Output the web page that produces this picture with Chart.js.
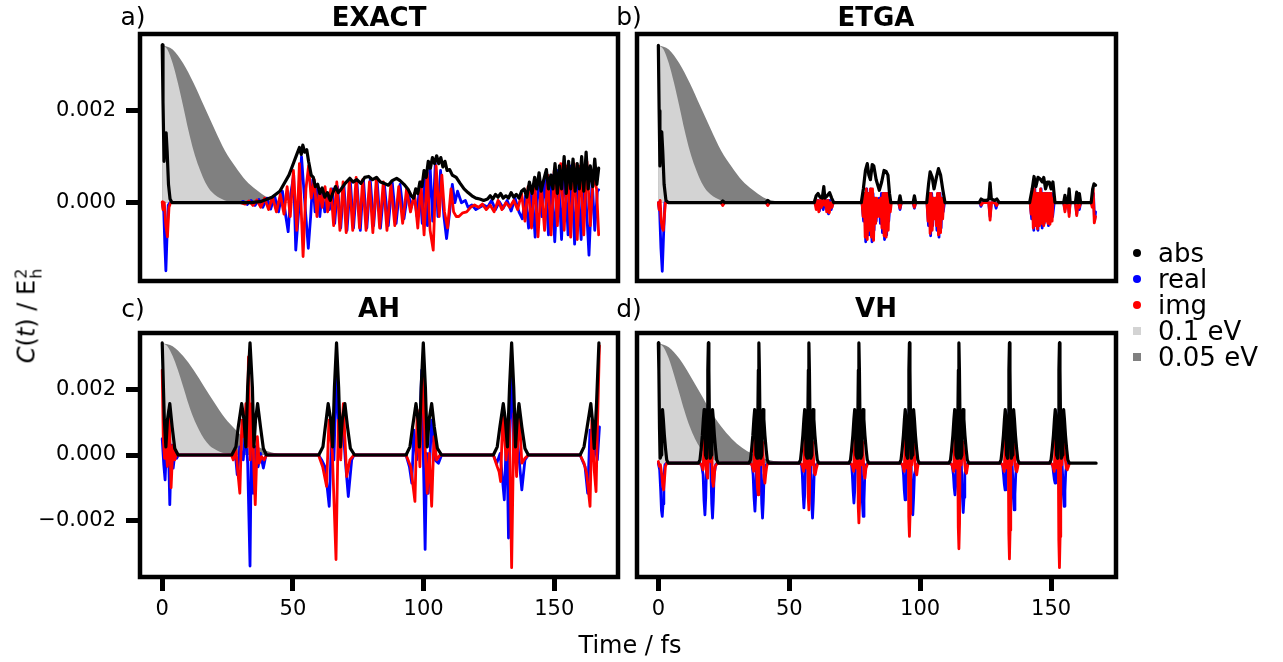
<!DOCTYPE html>
<html>
<head>
<meta charset="utf-8">
<script src="https://cdn.jsdelivr.net/npm/chart.js@4.4.1/dist/chart.umd.min.js"></script>
<style>
  body { margin: 0; width: 1283px; height: 662px; background: #fff; position: relative; overflow: hidden;
         font-family: "DejaVu Sans", sans-serif; color: #000; }
  canvas { position: absolute; left: 0; top: 0; }
  .txt { position: absolute; white-space: nowrap; transform: translate(-50%, -50%); line-height: 1; }
  .ttl { font-weight: bold; font-size: 26px; }
  .tag { font-size: 25px; }
  .leg { position: absolute; left: 1133px; top: 240px; font-size: 26px; line-height: 26px; }
  .leg div { display: flex; align-items: center; height: 26px; }
  .leg i { display: inline-block; width: 8px; height: 8px; margin-right: 17px; }
  .ylab { position: absolute; left: 28px; top: 316px; transform: translate(-50%, -50%) rotate(-90deg);
          font-size: 24px; white-space: nowrap; }
  .ss { display: inline-flex; flex-direction: column; font-size: 16px; line-height: 15px; vertical-align: 8px; margin-left: 1px; }
</style>
</head>
<body>
<canvas id="pa" width="1283" height="662"></canvas>
<canvas id="pb" width="1283" height="662"></canvas>
<canvas id="pc" width="1283" height="662"></canvas>
<canvas id="pd" width="1283" height="662"></canvas>

<div class="txt tag" style="left:133px;top:16px">a)</div>
<div class="txt ttl" style="left:379px;top:17px">EXACT</div>
<div class="txt tag" style="left:629px;top:16px">b)</div>
<div class="txt ttl" style="left:876px;top:17px">ETGA</div>
<div class="txt tag" style="left:133px;top:308px">c)</div>
<div class="txt ttl" style="left:379px;top:308px">AH</div>
<div class="txt tag" style="left:629px;top:308px">d)</div>
<div class="txt ttl" style="left:876px;top:308px">VH</div>

<div class="ylab"><i>C</i>(<i>t</i>) / E<span class="ss"><span>2</span><span>h</span></span></div>
<div class="txt" style="left:630px;top:645px;font-size:24px">Time / fs</div>

<div class="leg">
  <div><i style="background:#000;border-radius:50%"></i>abs</div>
  <div><i style="background:#0000ff;border-radius:50%"></i>real</div>
  <div><i style="background:#ff0000;border-radius:50%"></i>img</div>
  <div><i style="background:#d3d3d3"></i>0.1 eV</div>
  <div><i style="background:#808080"></i>0.05 eV</div>
</div>

<script>
const MILLI = 1e-3;

const xTicks = [0, 50, 100, 150];
const yTicksTop = [0, 0.002];
const yTicksBottom = [-0.002, 0, 0.002];

// shaded decay envelopes
const env01 = [[0,3.43],[2,3.33],[4,3.03],[6,2.6],[8,2.1],[10,1.58],[12,1.13],[14,0.78],[16,0.5],[18,0.3],[20,0.18],[22,0.1],[24,0.05],[26,0.02],[30,0]];
const env005 = [[0,3.43],[4,3.33],[8,3.03],[12,2.6],[16,2.1],[20,1.6],[24,1.13],[28,0.78],[32,0.48],[36,0.28],[40,0.12],[44,0.04],[48,0.01],[52,0]];
const env01D = [[0,3.43],[2,3.3],[4,2.95],[6,2.45],[8,1.9],[10,1.35],[12,0.87],[14,0.5],[16,0.22],[18,0.03],[20,-0.09],[22,-0.17],[24,-0.21],[27,-0.24],[30,-0.25]];
const env005D = [[0,3.43],[4,3.3],[8,2.95],[12,2.45],[16,1.9],[20,1.35],[24,0.87],[28,0.5],[32,0.22],[36,0.03],[40,-0.1],[44,-0.18],[48,-0.22],[52,-0.24],[58,-0.25]];

// a) EXACT
const absA = [[0,3.43],[0.3,2.2],[0.7,0.9],[1.1,1.3],[1.5,1.52],[1.9,1.1],[2.4,0.4],[3.0,0.08],[3.8,0],[34,0],[38,0.03],[42,0.12],[45,0.25],[47,0.45],[48.5,0.6],[49.5,0.75],[50.5,0.9],[51.5,1.05],[52.5,1.2],[53.2,1.05],[53.8,1.25],[54.5,1.1],[55.3,1.15],[56,0.9],[57,0.6],[57.8,0.55],[58.6,0.35],[59.5,0.4],[60.3,0.2],[61.2,0.32],[62.2,0.12],[63.2,0.22],[64.3,0.05],[65.2,0.2],[66.3,0.35],[67.4,0.22],[68.5,0.3],[70,0.42],[71.8,0.53],[73,0.45],[74.5,0.5],[76,0.42],[77.5,0.55],[79,0.57],[80.5,0.5],[82,0.55],[83.5,0.45],[85,0.42],[86.5,0.38],[88,0.48],[89.7,0.53],[91,0.48],[92.5,0.4],[94.2,0.28],[95.3,0.15],[96.2,0.1],[97,0.3],[97.8,0.2],[98.6,0.45],[99.4,0.35],[100.2,0.7],[101,0.55],[101.8,0.9],[102.6,0.75],[103.4,0.98],[104.2,0.85],[105,1.02],[105.8,0.85],[106.6,0.98],[107.4,0.78],[108.2,0.9],[109,0.7],[110,0.72],[111,0.6],[112.5,0.55],[114,0.42],[115.5,0.3],[117,0.22],[118.5,0.15],[120,0.1],[121.5,0.08],[123,0.05],[124.5,0.08],[125.5,0.15],[126.5,0.08],[127.5,0.18],[128.5,0.12],[129.5,0.2],[130.5,0.1],[131.5,0.15],[132.5,0.1],[133.5,0.22],[134.5,0.12],[135.5,0.18],[136.5,0.1],[137.5,0.25],[138.5,0.3],[139.5,0.12],[140.5,0.45],[141.5,0.2],[142.5,0.55],[143.3,0.3],[144.2,0.65],[145,0.25],[146,0.5],[147,0.72],[147.8,0.3],[148.7,0.6],[149.5,0.3],[150.3,0.85],[151.2,0.2],[152,0.8],[152.8,0.3],[153.8,1.0],[154.6,0.2],[155.5,0.9],[156.3,0.3],[157.2,0.95],[158,0.25],[158.8,0.85],[159.6,0.3],[160.5,1.0],[161.3,0.25],[162.2,1.1],[163,0.3],[163.8,0.8],[164.7,0.35],[165.5,0.95],[166.3,0.4],[167,0.75]];
const realA = [[0,0],[0.6,-0.2],[1.0,-0.9],[1.4,-1.48],[1.8,-0.8],[2.3,-0.05],[3,0],[30,0],[31,0.03],[32.5,-0.04],[34,0.05],[35.5,-0.06],[37,0.07],[38.5,-0.1],[40,0.1],[41.5,-0.14],[43,0.15],[44.5,-0.2],[46,0.25],[47.3,-0.3],[48.2,-0.63],[49.2,0.2],[50.3,0.6],[51.1,-1.03],[52.2,-0.2],[53.3,1.0],[54.3,0.2],[55.9,-0.99],[56.8,-0.3],[57.6,0.5],[58.5,-0.2],[59.4,0.35],[60.3,-0.3],[61.2,0.25],[62.2,-0.2],[63.2,0.15],[64,-0.15],[65,0.3],[66,-0.45],[67.1,0.35],[68.3,-0.55],[69.5,0.4],[70.7,-0.6],[72,0.45],[73.2,-0.55],[74.5,0.45],[75.8,-0.6],[77,0.5],[78.3,-0.55],[79.6,0.5],[80.9,-0.5],[82.2,0.5],[83.5,-0.55],[85,0.4],[86.5,-0.5],[88,0.45],[89.5,-0.45],[91,0.4],[92.5,-0.35],[94,0.25],[95.3,-0.1],[96.5,0.15],[97.5,-0.3],[98.5,0.4],[99.5,-0.45],[100.5,0.6],[101.5,-0.5],[102.5,0.8],[103.5,-0.4],[104.5,0.85],[105.5,-0.3],[106.5,0.7],[107.8,-0.3],[108.8,-0.78],[110,-0.2],[111,0.4],[112,0.0],[113,0.25],[114.5,0.0],[116,0.05],[117,-0.1],[118.5,-0.05],[120,-0.15],[121.5,-0.1],[123,-0.05],[124.5,-0.1],[126,0.05],[127.5,-0.15],[129,0.02],[130.5,-0.12],[132,0.05],[133.5,-0.18],[135,0.1],[136.5,-0.2],[137.8,-0.35],[139,0.15],[140.2,-0.55],[141.5,0.3],[142.7,-0.75],[144,0.5],[145.3,-0.3],[146.5,0.55],[147.8,-0.7],[149,0.6],[150.2,-0.85],[151.5,0.7],[152.8,-0.8],[154,0.85],[155.3,-0.7],[156.5,0.8],[157.8,-0.9],[159,0.6],[160.3,-0.8],[161.5,0.8],[162.7,-0.5],[163.3,-1.14],[164.5,0.5],[165.5,-0.6],[166.5,0.25],[167,0.28]];
const imgA = [[0,0.02],[0.3,-0.15],[0.8,0],[1.4,-0.5],[2.0,-0.74],[2.6,-0.1],[3.2,0],[30,0],[31.7,-0.03],[33.2,0.04],[34.7,-0.06],[36.2,0.06],[37.7,-0.1],[39.2,0.1],[40.7,-0.15],[42.2,0.12],[43.7,-0.2],[45.2,0.18],[46.6,-0.25],[47.8,0.35],[49,-0.3],[50.2,0.7],[51.5,-0.6],[52.5,0.85],[53.9,-1.17],[55,0.3],[56,0.8],[57,0.1],[58.2,0.5],[59.2,-0.3],[60.2,0.3],[61.2,-0.1],[62.3,0.35],[63.3,-0.2],[64.5,0.3],[65.6,-0.5],[66.8,0.45],[68,-0.6],[69.2,0.45],[70.4,-0.65],[71.6,0.5],[72.9,-0.6],[74.2,0.55],[75.5,-0.55],[76.7,0.5],[78,-0.6],[79.3,0.45],[80.6,-0.65],[81.9,0.5],[83.2,-0.55],[84.6,0.45],[86,-0.6],[87.5,0.4],[89,-0.5],[90.5,0.35],[92,-0.45],[93.5,0.3],[95,-0.2],[96.5,0.2],[97.8,-0.55],[99,0.45],[100.2,-0.7],[101.4,0.65],[102.5,-0.6],[103.7,-1.03],[104.8,0.8],[106,-0.3],[107,0.6],[108,-0.2],[109.2,-0.55],[110.5,0.3],[111.5,-0.2],[112.5,-0.3],[113.5,-0.3],[115,-0.22],[116.5,-0.2],[118,-0.1],[119.5,-0.05],[121,-0.1],[122.5,-0.03],[124,-0.15],[125.5,-0.05],[127,-0.2],[128.5,0.05],[130,-0.15],[131.5,0.0],[133,-0.1],[134.5,0.05],[136,-0.15],[137.5,0.2],[138.8,-0.4],[140,0.35],[141.3,-0.55],[142.5,0.45],[143.8,-0.74],[145,0.4],[146.3,-0.6],[147.5,0.6],[148.8,-0.7],[150,0.7],[151.2,-0.5],[152.5,0.85],[153.8,-0.6],[155,0.8],[156.3,-0.75],[157.6,0.85],[158.8,-0.8],[160,0.8],[161.3,-0.7],[162.5,0.9],[163.8,-0.5],[165,0.6],[166.2,0.3],[167,-0.7]];

// b) ETGA
const absB = [[0,3.42],[0.3,2.0],[0.6,0.8],[1.0,1.3],[1.3,1.54],[1.7,1.1],[2.2,0.4],[2.9,0.05],[3.8,0],[23.8,0],[24.6,0.04],[25.4,0],[41,0],[41.8,0.05],[42.6,0],[59.5,0],[60.3,0.15],[61,0.2],[61.8,0.12],[62.6,0.1],[63.2,0.35],[63.6,0.1],[64.5,0.15],[65.4,0.22],[66.2,0.1],[67,0],[77.5,0],[78.3,0.3],[79.1,0.7],[79.8,0.85],[80.4,0.6],[81,0.5],[81.7,0.83],[82.3,0.8],[83.2,0.5],[84.4,0.27],[85.3,0.45],[86.2,0.7],[87,0.68],[87.7,0.6],[88.3,0.2],[88.8,0],[91.8,0],[92.3,0.15],[92.8,0],[97.3,0],[97.8,0.15],[98.3,0],[102.5,0],[103.2,0.4],[103.8,0.67],[104.6,0.55],[105.3,0.3],[106.2,0.55],[107,0.74],[107.8,0.6],[108.6,0.3],[109.5,0],[122.5,0],[123.3,0.08],[124.2,0.05],[125.5,0.05],[126.2,0.08],[126.7,0.43],[127.2,0.08],[128.5,0.05],[129.3,0.08],[130.2,0],[141.8,0],[142.8,0.3],[143.5,0.57],[144.2,0.35],[145,0.55],[145.8,0.52],[146.6,0.45],[147.2,0.55],[147.9,0.3],[148.6,0.45],[149.3,0.45],[150,0.3],[150.7,0.45],[151.5,0],[154.8,0],[155.3,0.16],[155.8,0],[156.5,0],[156.9,0.3],[157.3,0],[159.3,0],[159.8,0.23],[160.3,0],[160.8,0.2],[161.3,0],[165.3,0],[165.9,0.3],[166.4,0.41],[167,0.38]];
const realB = [[0,0],[0.5,-0.2],[1.0,-1.0],[1.5,-1.49],[2.0,-0.7],[2.5,0],[3.5,0],[24,0],[24.6,-0.03],[25.2,0],[41.2,0],[41.8,-0.04],[42.4,0],[59.8,0],[60.5,-0.1],[61,0.05],[61.5,-0.18],[62,0],[62.5,-0.05],[63,-0.15],[63.5,0.05],[64,-0.1],[64.5,0.05],[65,-0.24],[65.5,0.05],[66,-0.15],[66.8,0],[77.8,0],[78.4,-0.4],[78.8,0.2],[79.2,-0.85],[79.6,0.3],[80,-0.7],[80.4,0.2],[80.8,-0.7],[81.2,0.3],[81.6,-0.85],[82,0.2],[82.4,-0.6],[82.8,0.1],[83.2,-0.4],[83.6,0.05],[84,-0.25],[84.4,0.1],[84.8,-0.45],[85.2,0.2],[85.6,-0.65],[86,0.2],[86.4,-0.8],[86.8,0.2],[87.2,-0.7],[87.6,0.2],[88,-0.4],[88.5,0],[91.8,0],[92.3,-0.15],[92.8,0],[97.3,0],[97.8,-0.12],[98.3,0],[102.6,0],[103.2,-0.5],[103.6,0.2],[104,-0.72],[104.4,0.2],[104.8,-0.5],[105.2,0.1],[105.6,-0.3],[106,0.1],[106.4,-0.6],[106.8,0.2],[107.2,-0.75],[107.6,0.2],[108,-0.55],[108.4,0.1],[108.8,-0.2],[109.3,0],[122.8,0],[123.2,-0.08],[123.8,0],[126.2,0],[126.7,-0.3],[127.2,0],[128.5,0],[129,-0.12],[129.6,0],[142,0],[142.6,-0.35],[143,0.2],[143.4,-0.6],[143.8,0.3],[144.2,-0.45],[144.6,0.2],[145,-0.6],[145.4,0.2],[145.8,-0.45],[146.2,0.3],[146.6,-0.55],[147,0.2],[147.4,-0.45],[147.8,0.2],[148.2,-0.35],[148.6,0.2],[149,-0.5],[149.4,0.2],[149.8,-0.4],[150.2,0.2],[150.6,-0.3],[151.2,0],[154.8,0],[155.3,-0.15],[155.8,0],[156.5,0],[156.9,-0.22],[157.3,0],[159.3,0],[159.8,-0.25],[160.3,0],[160.8,-0.15],[161.3,0],[165.3,0],[165.8,-0.05],[166.2,0.2],[166.6,-0.4],[167,-0.2]];
const imgB = [[0,0],[0.3,-0.15],[0.7,0.05],[1.1,-0.4],[1.5,-0.55],[1.9,-0.6],[2.3,-0.3],[2.7,0],[3.5,0],[24,0],[24.6,-0.06],[25.2,0],[41.2,0],[41.8,-0.06],[42.4,0],[59.8,0],[60.3,-0.15],[60.8,0.05],[61.3,-0.2],[61.8,0.05],[62.3,-0.1],[62.8,0.1],[63.3,-0.05],[63.8,0.05],[64.3,-0.2],[64.8,0.05],[65.3,-0.22],[65.8,0.0],[66.3,-0.1],[66.8,0],[77.8,0],[78.2,-0.3],[78.6,0.2],[79.0,-0.75],[79.4,0.3],[79.8,-0.8],[80.2,0.2],[80.6,-0.6],[81,0.3],[81.4,-0.75],[81.8,0.3],[82.2,-0.82],[82.6,0.1],[83,-0.45],[83.4,0.1],[83.8,-0.3],[84.2,0.05],[84.6,-0.3],[85,0.1],[85.4,-0.55],[85.8,0.2],[86.2,-0.72],[86.6,0.2],[87,-0.75],[87.4,0.2],[87.8,-0.6],[88.2,0.1],[88.6,-0.2],[89,0],[91.8,0],[92.3,-0.12],[92.8,0],[97.3,0],[97.8,-0.1],[98.3,0],[102.6,0],[103,-0.4],[103.4,0.2],[103.8,-0.67],[104.2,0.2],[104.6,-0.6],[105,0.1],[105.4,-0.35],[105.8,0.1],[106.2,-0.5],[106.6,0.2],[107,-0.7],[107.4,0.2],[107.8,-0.65],[108.2,0.1],[108.6,-0.35],[109,0.05],[109.5,0],[122.8,0],[123.3,-0.05],[124,0],[126.2,0],[126.7,-0.38],[127.2,0],[128.5,0],[129.2,-0.06],[129.8,0],[142,0],[142.4,-0.25],[142.8,0.2],[143.2,-0.55],[143.6,0.3],[144,-0.5],[144.4,0.2],[144.8,-0.57],[145.2,0.2],[145.6,-0.5],[146,0.3],[146.4,-0.45],[146.8,0.2],[147.2,-0.5],[147.6,0.2],[148,-0.4],[148.4,0.2],[148.8,-0.45],[149.2,0.2],[149.6,-0.47],[150,0.2],[150.4,-0.4],[150.8,0.1],[151.3,0],[154.8,0],[155.3,-0.2],[155.8,0],[156.5,0],[156.9,-0.3],[157.3,0],[159.3,0],[159.8,-0.28],[160.3,0],[160.8,-0.1],[161.3,0],[165.3,0],[165.7,-0.1],[166.1,0.3],[166.5,-0.44],[167,-0.3]];

// c) AH
const absC = [[0,3.43],[0.8,1.1],[1.4,0.25],[2.0,1.07],[2.9,1.57],[3.8,0.86],[4.8,0.2],[6.1,0],[26.6,0],[28.2,0.25],[29.1,0.86],[30.4,1.57],[31.3,1.07],[32.0,0.25],[32.7,2.08],[33.6,3.43],[34.5,2.08],[35.1,0.25],[35.7,1.07],[36.5,1.57],[37.6,0.86],[38.7,0.2],[39.9,0],[59.9,0],[61.5,0.25],[62.4,0.86],[63.5,1.57],[64.5,1.07],[65.2,0.25],[65.9,2.08],[66.7,3.43],[67.5,2.08],[68.2,0.25],[68.9,1.07],[69.9,1.57],[70.9,0.86],[72.0,0.2],[73.6,0],[93.3,0],[94.8,0.25],[95.8,0.86],[97.1,1.57],[97.9,1.07],[98.4,0.25],[99.1,2.08],[99.9,3.43],[100.7,2.08],[101.4,0.25],[102.1,1.07],[103.1,1.57],[104.1,0.86],[105.3,0.2],[106.9,0],[126.7,0],[128.2,0.25],[129.2,0.86],[130.5,1.57],[131.3,1.07],[132.1,0.25],[132.9,2.08],[133.7,3.43],[134.5,2.08],[135.2,0.25],[135.8,1.07],[136.5,1.57],[137.6,0.86],[138.8,0.2],[140.1,0],[159.9,0],[161.4,0.25],[162.6,0.86],[164.0,1.57],[164.7,1.0],[165.3,0.2],[166.2,1.6],[167.1,3.43]];
const realC = [[0,0.5],[0.6,-0.3],[1.1,-0.76],[1.6,0.2],[2.2,0.9],[2.9,-1.52],[3.5,0.3],[4.2,-0.4],[4.9,0.1],[5.5,-0.1],[6.2,0],[26.5,0],[28.2,-0.15],[28.7,-0.6],[29.7,0.25],[31.0,-0.15],[31.9,0.76],[32.7,-0.25],[33.6,-3.4],[34.2,1.07],[34.8,-1.17],[35.9,0.25],[36.7,-0.36],[37.6,0.05],[38.7,-0.4],[39.7,0],[59.8,0],[61.0,-0.15],[62.3,-0.36],[63.9,-1.57],[64.8,0.56],[65.7,-0.15],[66.7,2.7],[67.8,0.05],[69.0,1.07],[70.2,-0.3],[71.2,-1.27],[72.5,-0.15],[73.4,0],[93.3,0],[94.6,-0.36],[95.5,-0.86],[96.3,0.76],[97.4,-0.15],[98.4,0.56],[99.3,2.6],[100.6,-2.89],[101.2,0.05],[101.8,-1.17],[103.1,1.07],[104.4,-0.15],[105.7,-0.25],[106.9,0],[126.7,0],[128.0,-0.25],[129.3,0.05],[130.9,-1.37],[131.8,0.86],[132.5,-2.54],[133.1,1.07],[133.7,2.6],[134.6,0.05],[135.6,0.76],[137.6,-1.07],[138.8,-0.15],[140.1,0],[159.9,0],[161.8,-0.36],[162.8,-1.17],[163.7,0.76],[164.7,-0.15],[165.6,0.25],[166.5,-0.15],[167.3,0.86]];
const imgC = [[0,2.6],[0.4,0.5],[0.9,-0.1],[1.3,0.3],[2.0,-0.35],[2.6,1.37],[3.4,-1.0],[4.1,0.3],[4.8,-0.15],[5.5,0.05],[6.2,0],[26.5,0],[27.2,-0.15],[28.2,0.15],[29.1,-0.66],[29.7,-1.17],[30.5,1.07],[31.3,0.56],[32.0,1.57],[32.5,0.25],[33.0,3.0],[33.7,-0.15],[34.3,1.57],[35.1,-0.46],[35.6,-1.52],[36.4,0.56],[37.1,-0.25],[38.0,-0.05],[39.0,-0.15],[39.9,0],[59.8,0],[61.4,-0.36],[62.9,-0.96],[63.8,1.07],[65.1,0.05],[66.5,-3.2],[67.4,1.07],[68.3,-0.15],[69.3,1.57],[70.6,-0.66],[71.8,-0.15],[73.4,0],[93.3,0],[95.1,-0.36],[96.7,-1.42],[97.6,1.37],[98.6,-0.36],[99.7,2.9],[100.6,0.25],[101.4,-1.17],[102.2,0.05],[103.1,-1.57],[104.0,0.56],[105.0,-0.15],[106.3,0],[126.7,0],[128.2,-0.36],[128.9,-0.51],[129.5,-0.81],[130.3,1.27],[131.6,-0.15],[132.8,1.07],[133.7,-3.45],[134.6,1.27],[135.6,-0.66],[136.5,1.47],[137.6,-0.25],[138.8,-0.1],[140.1,0],[159.9,0],[161.4,-0.25],[162.4,-0.56],[163.7,-1.57],[164.4,1.07],[165.3,-0.46],[166.0,-1.12],[166.6,1.07],[167.3,3.35]];

// d) VH
const absD = [[0,3.43],[0.2,2.6],[0.45,0.8],[0.7,-0.1],[1.1,0.0],[1.3,1.1],[1.6,1.39],[1.9,1.1],[2.3,0.6],[2.8,0.15],[3.2,-0.15],[3.8,-0.25],
  [15.3,-0.25],[15.9,-0.15],[16.3,0.15],[16.8,0.6],[17.2,1.1],[17.5,1.39],[17.8,1.1],[18.0,0.0],[18.4,-0.1],[18.65,0.8],[18.9,2.6],[19.1,3.43],[19.3,2.6],[19.55,0.8],[19.8,-0.1],[20.2,0.0],[20.4,1.1],[20.7,1.39],[21.0,1.1],[21.4,0.6],[21.9,0.15],[22.3,-0.15],[22.9,-0.25],
  [34.6,-0.25],[35.2,-0.15],[35.6,0.15],[36.1,0.6],[36.5,1.1],[36.8,1.39],[37.1,1.1],[37.3,0.0],[37.7,-0.1],[37.95,0.8],[38.2,2.6],[38.4,3.43],[38.6,2.6],[38.85,0.8],[39.1,-0.1],[39.5,0.0],[39.7,1.1],[40.0,1.39],[40.3,1.1],[40.7,0.6],[41.2,0.15],[41.6,-0.15],[42.2,-0.25],
  [53.7,-0.25],[54.3,-0.15],[54.7,0.15],[55.2,0.6],[55.6,1.1],[55.9,1.39],[56.2,1.1],[56.4,0.0],[56.8,-0.1],[57.05,0.8],[57.3,2.6],[57.5,3.43],[57.7,2.6],[57.95,0.8],[58.2,-0.1],[58.6,0.0],[58.8,1.1],[59.1,1.39],[59.4,1.1],[59.8,0.6],[60.3,0.15],[60.7,-0.15],[61.3,-0.25],
  [72.8,-0.25],[73.4,-0.15],[73.8,0.15],[74.3,0.6],[74.7,1.1],[75.0,1.39],[75.3,1.1],[75.5,0.0],[75.9,-0.1],[76.15,0.8],[76.4,2.6],[76.6,3.43],[76.8,2.6],[77.05,0.8],[77.3,-0.1],[77.7,0.0],[77.9,1.1],[78.2,1.39],[78.5,1.1],[78.9,0.6],[79.4,0.15],[79.8,-0.15],[80.4,-0.25],
  [92.1,-0.25],[92.7,-0.15],[93.1,0.15],[93.6,0.6],[94.0,1.1],[94.3,1.39],[94.6,1.1],[94.8,0.0],[95.2,-0.1],[95.45,0.8],[95.7,2.6],[95.9,3.43],[96.1,2.6],[96.35,0.8],[96.6,-0.1],[97.0,0.0],[97.2,1.1],[97.5,1.39],[97.8,1.1],[98.2,0.6],[98.7,0.15],[99.1,-0.15],[99.7,-0.25],
  [111.0,-0.25],[111.6,-0.15],[112.0,0.15],[112.5,0.6],[112.9,1.1],[113.2,1.39],[113.5,1.1],[113.7,0.0],[114.1,-0.1],[114.35,0.8],[114.6,2.6],[114.8,3.43],[115.0,2.6],[115.25,0.8],[115.5,-0.1],[115.9,0.0],[116.1,1.1],[116.4,1.39],[116.7,1.1],[117.1,0.6],[117.6,0.15],[118.0,-0.15],[118.6,-0.25],
  [130.3,-0.25],[130.9,-0.15],[131.3,0.15],[131.8,0.6],[132.2,1.1],[132.5,1.39],[132.8,1.1],[133.0,0.0],[133.4,-0.1],[133.65,0.8],[133.9,2.6],[134.1,3.43],[134.3,2.6],[134.55,0.8],[134.8,-0.1],[135.2,0.0],[135.4,1.1],[135.7,1.39],[136.0,1.1],[136.4,0.6],[136.9,0.15],[137.3,-0.15],[137.9,-0.25],
  [149.4,-0.25],[150.0,-0.15],[150.4,0.15],[150.9,0.6],[151.3,1.1],[151.6,1.39],[151.9,1.1],[152.1,0.0],[152.5,-0.1],[152.75,0.8],[153.0,2.6],[153.2,3.43],[153.4,2.6],[153.65,0.8],[153.9,-0.1],[154.3,0.0],[154.5,1.1],[154.8,1.39],[155.1,1.1],[155.5,0.6],[156.0,0.15],[156.4,-0.15],[157.0,-0.25],[167.2,-0.25]];
const realD = [[0,-0.25],[0.5,-0.45],[0.9,-1.1],[1.2,-1.7],[1.5,-1.88],[1.8,-1.5],[2.1,-0.7],[2.5,-0.3],[3.2,-0.25],
  [15.7,-0.25],[16.5,-0.3],[17.1,-0.6],[17.45,-1.4],[17.8,-1.83],[18.1,-1.3],[18.4,-0.4],[18.8,0.9],[19.1,1.5],[19.4,0.2],[19.8,0.4],[20.1,-0.6],[20.4,-1.5],[20.7,-1.93],[21.0,-1.4],[21.3,-0.6],[21.9,-0.3],[22.5,-0.25],
  [35.0,-0.25],[35.8,-0.3],[36.2,-0.6],[36.55,-1.3],[36.9,-1.72],[37.2,-1.2],[37.5,-0.4],[38.0,0.9],[38.4,1.5],[38.7,0.2],[39.0,0.3],[39.2,-0.6],[39.5,-1.5],[39.8,-1.93],[40.1,-1.4],[40.4,-0.6],[41.2,-0.3],[41.8,-0.25],
  [54.1,-0.25],[54.7,-0.3],[55.0,-0.6],[55.3,-1.2],[55.6,-1.62],[55.9,-1.2],[56.2,-0.4],[57.1,0.9],[57.5,1.5],[57.8,0.2],[58.1,0.3],[58.3,-0.6],[58.6,-1.5],[58.9,-1.93],[59.2,-1.4],[59.5,-0.6],[60.3,-0.3],[60.9,-0.25],
  [73.2,-0.25],[73.8,-0.3],[74.1,-0.6],[74.4,-1.1],[74.7,-1.47],[75.0,-1.1],[75.3,-0.4],[76.2,0.9],[76.6,1.5],[76.9,0.2],[77.3,0.3],[77.6,-0.6],[77.95,-1.45],[78.25,-1.88],[78.55,-1.4],[78.85,-0.6],[79.4,-0.3],[80.0,-0.25],
  [92.5,-0.25],[93.3,-0.3],[93.65,-0.6],[93.95,-1.1],[94.25,-1.37],[94.55,-1.0],[94.85,-0.4],[95.5,0.9],[95.9,1.5],[96.2,0.2],[96.5,0.3],[96.6,-0.6],[96.9,-1.4],[97.2,-1.83],[97.5,-1.3],[97.8,-0.6],[98.7,-0.3],[99.3,-0.25],
  [111.4,-0.25],[112.2,-0.3],[112.7,-0.6],[113.0,-1.0],[113.3,-1.22],[113.6,-0.9],[113.9,-0.4],[114.4,0.9],[114.8,1.5],[115.1,0.2],[115.5,0.3],[115.85,-0.6],[116.15,-1.3],[116.45,-1.76],[116.75,-1.3],[117.05,-0.6],[117.6,-0.3],[118.2,-0.25],
  [130.7,-0.25],[131.5,-0.3],[131.85,-0.6],[132.15,-0.9],[132.45,-1.07],[132.75,-0.8],[133.05,-0.4],[133.7,0.9],[134.1,1.5],[134.4,0.2],[134.8,0.3],[135.3,-0.6],[135.6,-1.3],[135.9,-1.68],[136.2,-1.2],[136.5,-0.6],[136.9,-0.3],[137.5,-0.25],
  [149.8,-0.25],[150.6,-0.3],[150.95,-0.55],[151.25,-0.75],[151.55,-0.86],[151.85,-0.7],[152.15,-0.4],[152.8,0.9],[153.2,1.5],[153.5,0.2],[153.9,0.3],[154.4,-0.6],[154.7,-1.2],[155.0,-1.57],[155.3,-1.1],[155.6,-0.5],[156.0,-0.3],[156.6,-0.25]];
const imgD = [[0,-0.2],[0.4,-0.35],[0.8,-0.3],[1.3,-0.6],[1.7,-0.95],[2.0,-1.07],[2.3,-0.8],[2.7,-0.35],[3.2,-0.25],
  [15.7,-0.25],[16.5,-0.3],[17.1,-0.45],[17.6,0.6],[18.2,-0.3],[18.55,-0.6],[18.85,-0.71],[19.1,0.3],[19.4,1.0],[19.8,-0.2],[20.3,0.4],[20.7,-0.8],[21.0,-0.96],[21.3,-0.7],[21.7,-0.35],[22.5,-0.25],
  [35.0,-0.25],[35.8,-0.3],[36.4,-0.5],[36.9,0.6],[37.5,-0.4],[37.85,-1.0],[38.15,-1.22],[38.4,-0.5],[38.6,1.0],[39.1,-0.3],[39.8,0.4],[40.4,-0.7],[40.7,-0.86],[41.0,-0.6],[41.4,-0.35],[41.8,-0.25],
  [54.1,-0.25],[54.9,-0.3],[55.5,-0.5],[56.0,0.6],[56.6,-0.4],[57.0,0.8],[57.25,-1.3],[57.5,-1.68],[57.75,-1.2],[58.0,0.8],[58.4,-0.3],[58.9,0.4],[59.6,-0.55],[59.9,-0.6],[60.4,-0.4],[60.9,-0.25],
  [73.2,-0.25],[74.0,-0.3],[74.6,-0.5],[75.1,0.6],[75.7,-0.4],[76.1,0.8],[76.35,-1.6],[76.6,-2.08],[76.85,-1.5],[77.1,0.8],[77.5,-0.3],[78.0,0.4],[78.6,-0.6],[78.9,-0.71],[79.3,-0.4],[80.0,-0.25],
  [92.5,-0.25],[93.3,-0.3],[93.9,-0.5],[94.4,0.6],[95.0,-0.4],[95.4,0.8],[95.65,-1.9],[95.9,-2.49],[96.15,-1.8],[96.4,0.8],[96.8,-0.3],[97.4,0.4],[98.3,-0.5],[98.7,-0.61],[99.0,-0.4],[99.3,-0.25],
  [111.4,-0.25],[112.2,-0.3],[112.8,-0.5],[113.3,0.6],[113.9,-0.4],[114.3,0.8],[114.55,-2.2],[114.8,-2.87],[115.05,-2.1],[115.3,0.8],[115.7,-0.3],[116.3,0.4],[117.3,-0.5],[117.7,-0.56],[118.0,-0.4],[118.3,-0.25],
  [130.7,-0.25],[131.5,-0.3],[132.1,-0.5],[132.6,0.6],[133.2,-0.4],[133.6,0.8],[133.85,-2.4],[134.1,-3.18],[134.35,-2.3],[134.6,0.8],[135.0,-0.3],[135.6,0.4],[136.5,-0.45],[136.9,-0.51],[137.2,-0.4],[137.5,-0.25],
  [149.8,-0.25],[150.6,-0.3],[151.2,-0.5],[151.7,0.6],[152.3,-0.4],[152.7,0.8],[152.95,-2.6],[153.2,-3.45],[153.45,-2.5],[153.7,0.8],[154.1,-0.3],[154.7,0.4],[155.8,-0.4],[156.2,-0.45],[156.6,-0.36],[157,-0.25]];

Chart.defaults.font.family = "'DejaVu Sans', sans-serif";
Chart.defaults.color = '#000';

const W = 1283, H = 662;
const LIGHT = '#d3d3d3', DARK = '#808080';

const toPts = arr => arr.map(([t, v]) => ({ x: t, y: v * MILLI }));

const framePlugin = {
    id: 'frame',
    afterDatasetsDraw(chart) {
        const { ctx, chartArea: a } = chart;
        ctx.save();
        ctx.lineWidth = 4.5;
        ctx.strokeStyle = '#000';
        ctx.strokeRect(a.left, a.top, a.right - a.left, a.bottom - a.top);
        ctx.restore();
    }
};

function makePanel(id, box, xRange, yRange, yTicks, showY, showX, s, base) {
    const line = (data, color, width, order) => ({
        data: toPts(data), borderColor: color, borderWidth: width, fill: false, order: order
    });
    const area = (data, color, order) => ({
        data: toPts(data), borderWidth: 0, borderColor: color, backgroundColor: color,
        cubicInterpolationMode: 'monotone', fill: { value: base * MILLI }, order: order
    });
    // axes that show labels get a real box (labels are clipped to it), the others get none
    const yW = showY ? box.l : 0;
    const xH = showX ? H - box.b : 0;

    new Chart(document.getElementById(id), {
        type: 'line',
        data: {
            datasets: [
                line(s.abs, '#000000', 3.2, 1),
                line(s.img, '#ff0000', 2.8, 2),
                line(s.real, '#0000ff', 2.8, 3),
                area(s.light, LIGHT, 4),
                area(s.dark, DARK, 5)
            ]
        },
        options: {
            responsive: false,
            animation: false,
            events: [],
            layout: { padding: { left: box.l - yW, top: box.t, right: W - box.r, bottom: H - box.b - xH } },
            elements: {
                point: { radius: 0 },
                line: { tension: 0, borderJoinStyle: 'round', borderCapStyle: 'round' }
            },
            plugins: { legend: { display: false }, tooltip: { enabled: false } },
            scales: {
                x: {
                    type: 'linear',
                    min: xRange[0],
                    max: xRange[1],
                    afterFit: sc => { sc.height = xH; },
                    afterBuildTicks: sc => { sc.ticks = xTicks.map(v => ({ value: v })); },
                    border: { display: false },
                    grid: { display: showX, drawOnChartArea: false, drawTicks: true, tickLength: 14, lineWidth: 5, color: '#000' },
                    ticks: { display: showX, padding: 6, font: { size: 21 }, maxRotation: 0, autoSkip: false,
                             callback: v => String(v) }
                },
                y: {
                    type: 'linear',
                    min: yRange[0],
                    max: yRange[1],
                    afterFit: sc => { sc.width = yW; },
                    afterBuildTicks: sc => { sc.ticks = yTicks.map(v => ({ value: v })); },
                    border: { display: false },
                    grid: { display: showY, drawOnChartArea: false, drawTicks: true, tickLength: 14, lineWidth: 5, color: '#000' },
                    ticks: { display: showY, padding: 10, font: { size: 21 },
                             callback: v => (v < 0 ? '\u2212' : '') + Math.abs(v).toFixed(3) }
                }
            }
        },
        plugins: [framePlugin]
    });
}

window.onload = function () {
    const yTop = [-1.702e-3, 3.667e-3];
    const yBot = [-3.734e-3, 3.734e-3];
    const xLeft = [-8.5, 174.4];
    const xRight = [-8.15, 174.8];

    makePanel('pa', { l: 140, t: 34, r: 618, b: 281 }, xLeft, yTop, yTicksTop, true, false,
        { abs: absA, real: realA, img: imgA, light: env01, dark: env005 }, 0);
    makePanel('pb', { l: 637, t: 34, r: 1116, b: 281 }, xRight, yTop, yTicksTop, false, false,
        { abs: absB, real: realB, img: imgB, light: env01, dark: env005 }, 0);
    makePanel('pc', { l: 140, t: 333, r: 618, b: 577 }, xLeft, yBot, yTicksBottom, true, true,
        { abs: absC, real: realC, img: imgC, light: env01, dark: env005 }, 0);
    makePanel('pd', { l: 637, t: 333, r: 1116, b: 577 }, xRight, yBot, yTicksBottom, false, true,
        { abs: absD, real: realD, img: imgD, light: env01D, dark: env005D }, -0.25);
};
</script>
</body>
</html>
